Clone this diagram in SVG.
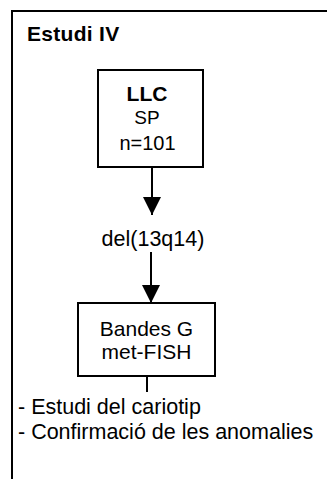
<svg xmlns="http://www.w3.org/2000/svg" width="327" height="479" viewBox="0 0 327 479">
<defs>
<style>
.t{font-family:"Liberation Sans",Arial,sans-serif;fill:#000}
.box{fill:#fff;stroke:#000;stroke-width:2}
.ln{stroke:#000;stroke-width:2;fill:none}
</style>
<marker id="ah" markerUnits="userSpaceOnUse" markerWidth="20" markerHeight="18" refX="18" refY="9" orient="auto">
<path d="M0,0 L18,9 L0,18 Z" fill="#000"/>
</marker>
</defs>
<rect width="327" height="479" fill="#fff"/>
<g id="frame">
<path class="ln" d="M12,480 V11 H328"/>
<text class="t" x="27" y="41" font-size="21" font-weight="bold" letter-spacing="0.3">Estudi IV</text>
</g>
<g id="connectors">
<line class="ln" x1="152" y1="167" x2="152" y2="215" marker-end="url(#ah)"/>
<line class="ln" x1="151" y1="252" x2="151" y2="303" marker-end="url(#ah)"/>
<line class="ln" x1="147" y1="376" x2="147" y2="392"/>
</g>
<g id="llc">
<rect class="box" x="98" y="70" width="105" height="97"/>
<text class="t" x="147" y="101" font-size="21" font-weight="bold" text-anchor="middle">LLC</text>
<text class="t" x="147" y="124" font-size="19" text-anchor="middle">SP</text>
<text class="t" x="147.5" y="150" font-size="20" text-anchor="middle">n=101</text>
</g>
<g id="del">
<text class="t" x="153" y="246" font-size="21.5" text-anchor="middle">del(13q14)</text>
</g>
<g id="bandes">
<rect class="box" x="78" y="303" width="137" height="73"/>
<text class="t" x="146.5" y="336" font-size="21" text-anchor="middle">Bandes G</text>
<text class="t" x="146.5" y="359" font-size="21" text-anchor="middle">met-FISH</text>
</g>
<g id="notes">
<text class="t" x="18" y="414" font-size="21.5">- Estudi del cariotip</text>
<text class="t" x="18" y="439" font-size="21.5">- Confirmació de les anomalies</text>
</g>
</svg>
